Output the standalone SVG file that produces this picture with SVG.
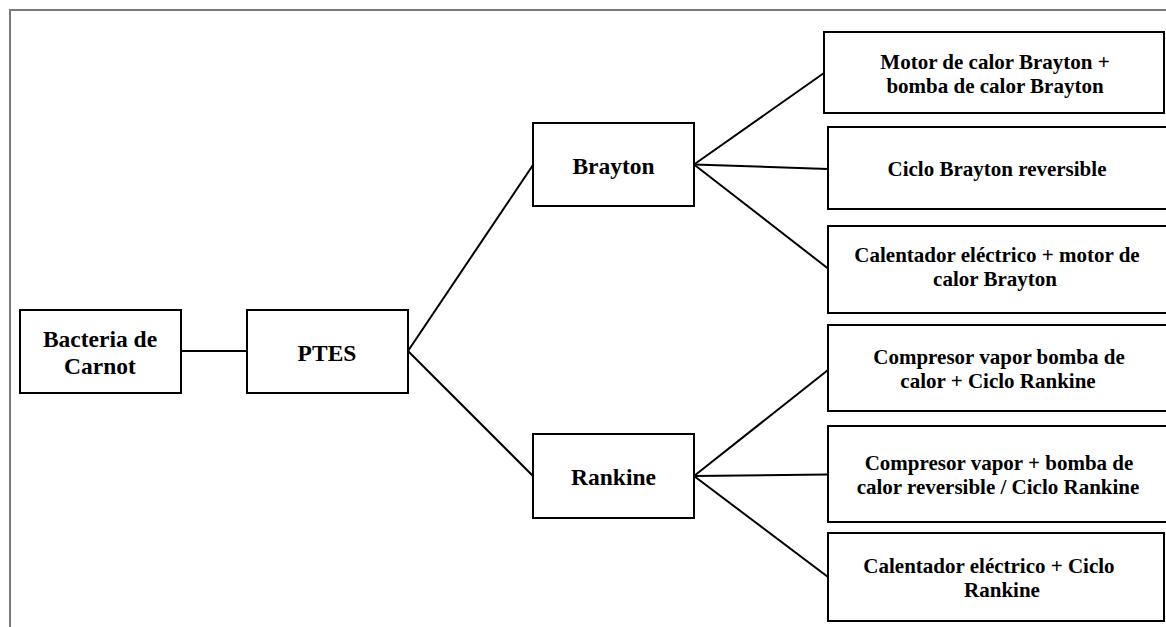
<svg xmlns="http://www.w3.org/2000/svg" width="1166" height="627" viewBox="0 0 1166 627">
<style>
.box{fill:#fff;stroke:#000;stroke-width:2}
.conn line{stroke:#000;stroke-width:2;fill:none}
.t1{font-family:"Liberation Serif","Times New Roman",serif;font-weight:bold;font-size:23.5px;fill:#000;text-anchor:middle}
.t2{font-family:"Liberation Serif","Times New Roman",serif;font-weight:bold;font-size:21px;fill:#000;text-anchor:middle}
</style>
<rect x="0" y="0" width="1166" height="627" fill="#fff"/>
<rect x="10" y="10" width="1200" height="700" fill="none" stroke="#7a7a7a" stroke-width="2"/>
<g id="connectors" class="conn">
<line x1="181" y1="351" x2="247" y2="351"/>
<line x1="408" y1="351" x2="533" y2="165"/>
<line x1="408" y1="351" x2="533" y2="476"/>
<line x1="694" y1="164.5" x2="824" y2="73"/>
<line x1="694" y1="164.5" x2="828" y2="169"/>
<line x1="694" y1="164.5" x2="828" y2="268.5"/>
<line x1="694" y1="476" x2="828" y2="370"/>
<line x1="694" y1="476" x2="828" y2="474.5"/>
<line x1="694" y1="476" x2="828" y2="577"/>
</g>
<g id="n-carnot">
<rect class="box" x="20" y="310" width="161" height="83"/>
<text class="t1" x="100" y="347">Bacteria de</text>
<text class="t1" x="100" y="374">Carnot</text>
</g>
<g id="n-ptes">
<rect class="box" x="247" y="310" width="161" height="83"/>
<text class="t1" x="327" y="361">PTES</text>
</g>
<g id="n-brayton">
<rect class="box" x="533" y="123" width="161" height="83"/>
<text class="t1" x="613.5" y="174">Brayton</text>
</g>
<g id="n-rankine">
<rect class="box" x="533" y="434" width="161" height="84"/>
<text class="t1" x="613.5" y="485">Rankine</text>
</g>
<g id="n-b1">
<rect class="box" x="824" y="32" width="340" height="81"/>
<text class="t2" x="995" y="69">Motor de calor Brayton +</text>
<text class="t2" x="995" y="93">bomba de calor Brayton</text>
</g>
<g id="n-b2">
<rect class="box" x="828" y="127" width="340" height="82"/>
<text class="t2" x="997" y="176">Ciclo Brayton reversible</text>
</g>
<g id="n-b3">
<rect class="box" x="828" y="226" width="340" height="87"/>
<text class="t2" x="997" y="262">Calentador eléctrico + motor de</text>
<text class="t2" x="995" y="286">calor Brayton</text>
</g>
<g id="n-r1">
<rect class="box" x="828" y="325" width="340" height="86"/>
<text class="t2" x="999" y="364">Compresor vapor bomba de</text>
<text class="t2" x="998" y="388">calor + Ciclo Rankine</text>
</g>
<g id="n-r2">
<rect class="box" x="828" y="426" width="340" height="96"/>
<text class="t2" x="999" y="470">Compresor vapor + bomba de</text>
<text class="t2" x="998" y="494">calor reversible / Ciclo Rankine</text>
</g>
<g id="n-r3">
<rect class="box" x="828" y="533" width="336" height="88"/>
<text class="t2" x="989" y="573">Calentador eléctrico + Ciclo</text>
<text class="t2" x="1002" y="597">Rankine</text>
</g>
</svg>
